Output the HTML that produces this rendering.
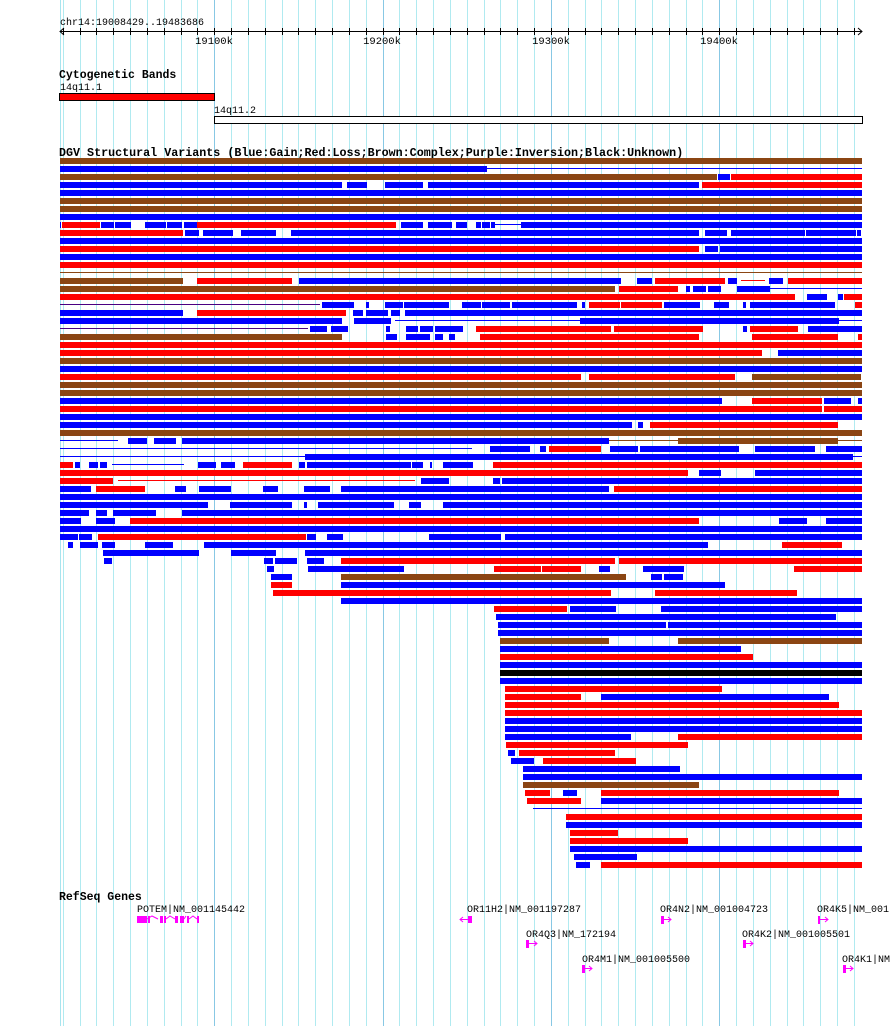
<!DOCTYPE html>
<html><head><meta charset="utf-8">
<style>
html,body{margin:0;padding:0;background:#fff;}
svg{display:block;}
text{font-family:"Liberation Mono","DejaVu Sans Mono",monospace;}
</style></head>
<body>
<svg id="s" xmlns="http://www.w3.org/2000/svg" width="890" height="1026" viewBox="0 0 890 1026">
<rect width="890" height="1026" fill="#fff"/>
<g id="grid"></g>
<text x="60" y="25" font-size="10" fill="#000">chr14:19008429..19483686</text>
<line x1="60" y1="31.5" x2="862" y2="31.5" stroke="#000" stroke-width="1"/>
<path d="M64 28 L60 31.5 L64 35 M858 28 L862 31.5 L858 35" stroke="#000" fill="none"/>
<g id="ticks"></g>
<text x="214" y="44" font-size="10.5" text-anchor="middle">19100k</text>
<text x="382" y="44" font-size="10.5" text-anchor="middle">19200k</text>
<text x="551" y="44" font-size="10.5" text-anchor="middle">19300k</text>
<text x="719" y="44" font-size="10.5" text-anchor="middle">19400k</text>
<text x="59" y="78" font-size="11.5" font-weight="bold">Cytogenetic Bands</text>
<text x="60" y="90" font-size="10">14q11.1</text>
<rect x="59.5" y="93.5" width="155" height="7" fill="#f00" stroke="#000"/>
<text x="214" y="113" font-size="10">14q11.2</text>
<rect x="214.5" y="116.5" width="648" height="7" fill="#fff" stroke="#000"/>
<text x="59" y="156" font-size="11.7" font-weight="bold">DGV Structural Variants (Blue:Gain;Red:Loss;Brown:Complex;Purple:Inversion;Black:Unknown)</text>
<g id="bars"></g>
<text x="59" y="900" font-size="11.5" font-weight="bold">RefSeq Genes</text>
<text x="137" y="912" font-size="10">POTEM|NM_001145442</text>
<g fill="#f0f" stroke="none">
<rect x="137" y="916" width="10" height="7"/>
<rect x="148" y="916" width="2" height="7"/>
<rect x="160" y="916" width="3" height="7"/>
<rect x="164" y="916" width="2" height="7"/>
<rect x="175" y="916" width="3" height="7"/>
<rect x="180" y="916" width="4" height="7"/>
<rect x="187" y="916" width="2" height="7"/>
<rect x="197" y="916" width="2" height="7"/>
</g>
<path d="M147 919 L152 916 L158 919 M166 919 L170 916 L175 919 M184 919 L186 916 M189 919 L193 916 L197 919" stroke="#f0f" fill="none"/>
<text x="467" y="912" font-size="10">OR11H2|NM_001197287</text>
<rect x="468" y="916" width="4" height="7" fill="#f0f"/>
<path d="M460 919.5 L468 919.5 M463 917 L460 919.5 L463 922" stroke="#f0f" fill="none"/>
<text x="526" y="937" font-size="10">OR4Q3|NM_172194</text>
<rect x="526" y="940" width="3" height="8" fill="#f0f"/>
<path d="M529 943.5 L537 943.5 M534 941 L537 943.5 L534 946" stroke="#f0f" fill="none"/>
<text x="582" y="962" font-size="10">OR4M1|NM_001005500</text>
<rect x="582" y="965" width="3" height="8" fill="#f0f"/>
<path d="M585 968.5 L592 968.5 M589 966 L592 968.5 L589 971" stroke="#f0f" fill="none"/>
<text x="660" y="912" font-size="10">OR4N2|NM_001004723</text>
<rect x="661" y="916" width="3" height="8" fill="#f0f"/>
<path d="M664 919.5 L671 919.5 M668 917 L671 919.5 L668 922" stroke="#f0f" fill="none"/>
<text x="742" y="937" font-size="10">OR4K2|NM_001005501</text>
<rect x="743" y="940" width="3" height="8" fill="#f0f"/>
<path d="M746 943.5 L753 943.5 M750 941 L753 943.5 L750 946" stroke="#f0f" fill="none"/>
<text x="817" y="912" font-size="10">OR4K5|NM_001</text>
<rect x="818" y="916" width="2" height="8" fill="#f0f"/>
<path d="M820 919.5 L828 919.5 M825 917 L828 919.5 L825 922" stroke="#f0f" fill="none"/>
<text x="842" y="962" font-size="10">OR4K1|NM</text>
<rect x="843" y="965" width="3" height="8" fill="#f0f"/>
<path d="M846 968.5 L853 968.5 M850 966 L853 968.5 L850 971" stroke="#f0f" fill="none"/>
</svg>
<script>
(function(){
var NS="http://www.w3.org/2000/svg";
function el(p,n,a){var e=document.createElementNS(NS,n);for(var k in a)e.setAttribute(k,a[k]);p.appendChild(e);return e;}
var grid=document.getElementById('grid'),ticks=document.getElementById('ticks'),bars=document.getElementById('bars');
el(grid,'line',{x1:60.5,y1:0,x2:60.5,y2:1026,stroke:'#a8e4ee','stroke-width':1});
for(var k=-9;k<=38;k++){
  var x=Math.round(214.3+k*16.83)+0.5;
  var major=(k%10===0);
  el(grid,'line',{x1:x,y1:0,x2:x,y2:1026,stroke:major?'#88c8e4':'#b0eaf0','stroke-width':1});
  el(ticks,'line',{x1:x,y1:28,x2:x,y2:35,stroke:'#000','stroke-width':1});
}
var C={b:'#0000ff',r:'#ff0000',n:'#8b4513',k:'#000000',l:'#0000ff',m:'#ff0000',o:'#8b4513',p:'#4b0082'};
var rows=[
"n60-862","b60-487 l487-862","n60-717 b718-730 r731-862",
"b60-342 b347-367 b385-423 b428-699 r702-862","b60-862","n60-862","n60-862","b60-862",
"b60-61 r62-100 b101-114 b115-131 b145-166 b167-182 b184-197 r197-396 b401-423 b428-452 b456-467 b476-481 b482-490 b491-495 l495-521 b521-862",
"r60-183 b185-199 b203-233 b241-276 b291-699 b705-727 b731-805 b806-856 b857-861",
"b60-862","r60-699 b705-718 b720-862","b60-862","r60-862","o60-862",
"n60-183 r197-292 b299-621 b637-652 r655-725 b728-737 m741-765 b769-783 r788-862",
"n60-615 r619-678 b686-690 b693-706 b708-721 b737-770 l770-862",
"r60-795 b807-827 b838-843 r844-862",
"p60-320 b322-354 b366-369 b385-403 b404-449 b462-481 b482-510 b512-577 b582-585 r589-620 r621-662 b664-700 b714-729 b743-746 b750-835 r855-862",
"b60-183 r197-346 b353-363 b366-388 b391-400 b405-862",
"b60-342 b354-391 l395-580 b580-839 l839-862",
"p60-308 b310-327 b331-348 b386-390 b406-418 b420-433 b435-463 r476-611 r614-703 b743-747 r750-798 b808-862",
"n60-342 b386-397 b406-430 b435-443 b449-455 r480-699 r752-838 r858-862",
"r60-862","r60-762 b778-862","n60-862","b60-862","r60-581 r589-735 n752-861","n60-862","n60-862",
"b60-722 r752-822 b824-851 b858-862","r60-822 r824-862","b60-862","b60-632 b638-643 r650-838","n60-862",
"l60-118 b128-147 b154-176 b182-609 o609-678 n678-838 o838-862",
"l60-472 b490-530 b540-546 r549-601 b610-638 b640-739 b755-815 b826-862",
"l60-305 b305-853 l853-862",
"r60-73 b75-80 b89-98 b100-107 l112-184 b198-216 b221-235 r243-292 b299-305 b307-411 b412-423 b430-432 b443-473 r493-862",
"r60-688 b699-721 b755-862",
"r60-113 m118-415 b421-449 b493-500 b502-862",
"b60-91 r96-145 b175-186 b199-231 b263-278 b304-330 b341-609 r614-862",
"b60-862",
"b60-208 b230-292 b304-307 b318-394 b409-421 b443-862",
"b60-89 b96-107 b113-156 b182-862",
"b60-81 b96-115 r130-699 b779-807 b826-862",
"b60-862",
"b60-78 b79-92 r98-306 b307-316 b327-343 b429-501 b505-862",
"b68-73 b80-98 b102-115 b145-173 b204-708 r782-842",
"b103-199 b231-276 b305-862",
"b104-112 b264-273 b275-297 b307-324 r341-615 r619-862",
"b267-274 b308-404 r494-541 r542-581 b599-610 b643-684 r794-862",
"b271-292 n341-626 b651-662 b664-683",
"r271-292 b341-725",
"r273-611 r655-797",
"b341-862",
"r494-567 b570-616 b661-862",
"b496-836","b498-666 b668-862","b498-862","n500-609 n678-862","b500-741","r500-753","b500-862","k500-862","b500-862",
"r505-722","r505-581 b601-829","r505-839","r505-862","b505-862","b505-862","b505-631 r678-862","r506-688",
"b508-515 r519-615","b511-534 r543-636","b523-680","b523-862","n523-699","r525-550 b563-577 r601-839",
"r527-581 b601-862","l533-862","r566-862","b566-862","r570-618","r570-688","b570-862","b574-637","b576-590 r601-862"
];
rows.forEach(function(r,i){
  var y=158+8*i;
  r.split(' ').forEach(function(s){
    var t=s[0],p=s.slice(1).split('-'),a=+p[0],b=+p[1];
    if('lmop'.indexOf(t)>=0){
      el(bars,'rect',{x:a,y:y+2,width:b-a,height:1,fill:C[t]});
    } else {
      el(bars,'rect',{x:a,y:y,width:b-a,height:6,fill:C[t]});
    }
  });
});
})();
</script>
</body></html>
